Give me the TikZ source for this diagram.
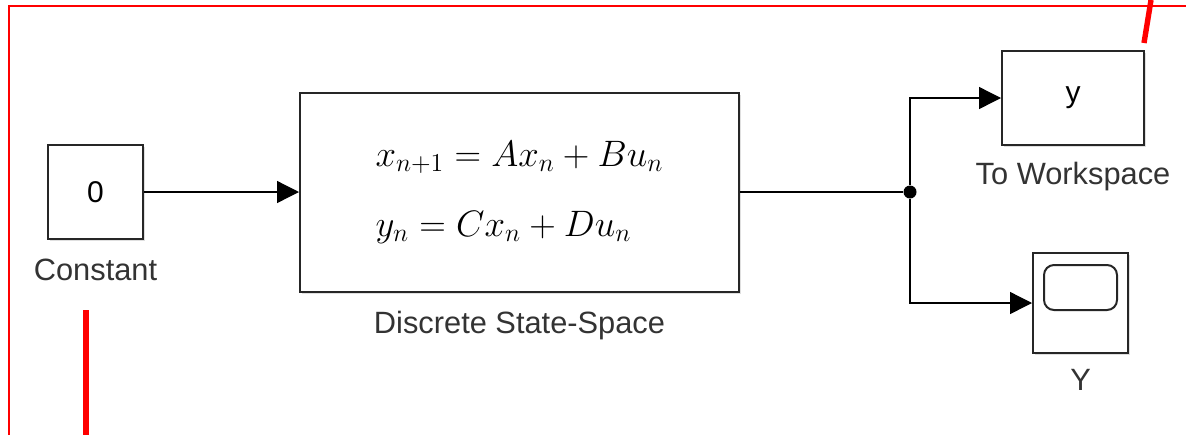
\RequirePackage{fix-cm}
\documentclass[tikz,border=0pt]{standalone}
\usepackage{fontspec}
\setmainfont{Liberation Sans}
\usepackage{amsmath}
\usepackage{xcolor}
\definecolor{sledge}{HTML}{262626}
\definecolor{sltext}{HTML}{333333}
\usepackage{tikz}
\usetikzlibrary{arrows.meta,positioning,shadows}
\tikzset{
  slblock/.style={draw=sledge,line width=1pt,fill=white,inner sep=0pt,font=\fontsize{15}{18}\selectfont,drop shadow={shadow xshift=1.2pt,shadow yshift=-1.2pt,opacity=.25}},
  sllabel/.style={font=\fontsize{15.4}{18}\selectfont,text=sltext,inner sep=0pt},
  slflow/.style={-{Triangle[length=11pt,width=11pt]},line width=.65pt},
  slline/.style={line width=.65pt},
  sldot/.style={circle,fill=black,inner sep=0pt,minimum size=6.5pt},
  slmark/.style={red,line width=2.7pt},
}

\begin{document}
\begin{tikzpicture}[x=0.5pt,y=-0.5pt]
\useasboundingbox (0,0) rectangle (1186,435);
\draw[red,line width=1pt] (9,435) -- (9,6) -- (1186,6);
\node[slblock,minimum width=47.5pt,minimum height=47pt] (const) at (95.5,192) {0};
\node[sllabel,below=9.5pt of const] (constlbl) {Constant};
\node[slblock,minimum width=219.5pt,minimum height=99.5pt,right=77.5pt of const,align=left,font=\fontsize{18.4}{35}\selectfont] (ss) {$x_{n+1} = Ax_n + Bu_n$\\$y_n = Cx_n + Du_n$};
\node[sllabel,below=9pt of ss] (sslbl) {Discrete State-Space};
\node[sldot] (jn) at (910,192) {};
\draw[slflow] (const) -- (ss);
\draw[slline] (ss) -- (jn);
\node[slblock,minimum width=71pt,minimum height=47pt] (ws) at (1073,98) {y};
\node[sllabel,below=8pt of ws] (wslbl) {To Workspace};
\node[slblock,minimum width=47.5pt,minimum height=50pt] (scope) at (1080.5,303) {};
\node[draw=sledge,line width=1pt,rounded corners=5pt,minimum width=36.5pt,minimum height=22.5pt,below=6pt of scope.north] (screen) {};
\node[sllabel,below=7.5pt of scope] (scopelbl) {Y};
\draw[slflow] (jn) |- (ws);
\draw[slflow] (jn) |- (scope);
% red marks
\draw[slmark] (86,310) -- (86,435);
\draw[slmark] (1144,43) -- (1151,0);
\end{tikzpicture}
\end{document}
